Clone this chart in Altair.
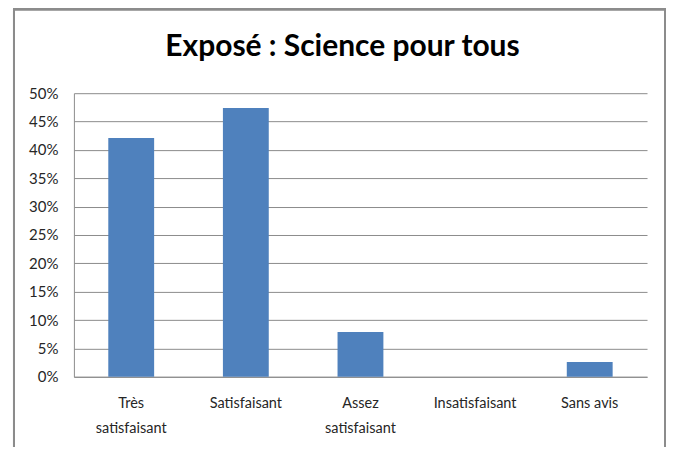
import altair as alt
import pandas as pd

categories = ["Très satisfaisant", "Satisfaisant", "Assez satisfaisant", "Insatisfaisant", "Sans avis"]
values = [0.421, 0.474, 0.079, 0.0, 0.026]
y_ticks = [0, 0.05, 0.10, 0.15, 0.20, 0.25, 0.30, 0.35, 0.40, 0.45, 0.50]

df = pd.DataFrame({"categorie": categories, "part": values})

FONT = "Lato"
GRID = "#8c8c8c"
TXT = "#262626"

bars = alt.Chart(df).mark_bar(color="#4F81BD").encode(
    x=alt.X(
        "categorie:N",
        sort=categories,
        title=None,
        scale=alt.Scale(paddingInner=0.6, paddingOuter=0.3),
        axis=alt.Axis(
            labelAngle=0,
            ticks=False,
            domainColor=GRID,
            domainWidth=1,
            labelFont=FONT,
            labelFontSize=14.5,
            labelColor=TXT,
            labelPadding=20,
            labelLineHeight=25,
            labelBaseline="top",
            labelExpr="indexof(datum.label, ' satisfaisant') > 0 ? split(datum.label, ' ') : datum.label",
        ),
    ),
    y=alt.Y(
        "part:Q",
        title=None,
        scale=alt.Scale(domain=[0, 0.5], nice=False),
        axis=alt.Axis(
            values=y_ticks,
            format=".0%",
            ticks=False,
            grid=True,
            gridColor=GRID,
            gridWidth=1,
            domainColor=GRID,
            domainWidth=1,
            labelFont=FONT,
            labelFontSize=15,
            labelColor=TXT,
            labelPadding=16,
        ),
    ),
)

border = alt.Chart(df).mark_rect(fill=None, stroke="#8c8c8c", strokeWidth=2).encode(
    x=alt.value(-60), x2=alt.value(592), y=alt.value(-84), y2=alt.value(500)
)

chart = alt.layer(border, bars).properties(
    width=574,
    height=284,
    padding={"left": 66, "top": 85, "right": 20, "bottom": 70},
    autosize=alt.AutoSizeParams(type="none"),
    title=alt.TitleParams(
        "Exposé : Science pour tous",
        font=FONT,
        fontSize=30,
        fontWeight="bold",
        color="#000000",
        anchor="middle",
        baseline="alphabetic",
        dx=-18,
        offset=-78,
    ),
).configure_view(stroke=None)

chart.save("out.html", embed_options={"renderer": "svg", "actions": False})
